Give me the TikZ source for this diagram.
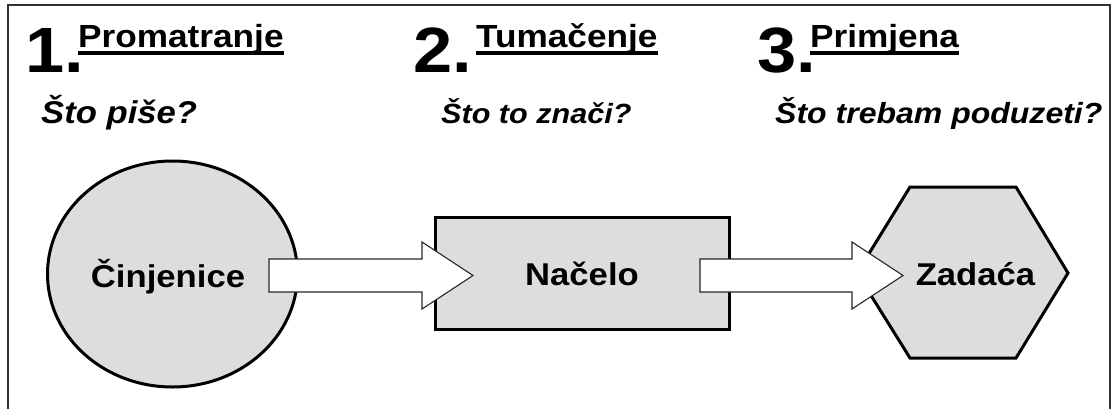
\documentclass[tikz,border=0pt]{standalone}
\usepackage{fontspec}
\setmainfont{Liberation Sans}[FakeStretch=1.1]
\usetikzlibrary{calc,shapes.geometric}
\definecolor{shapefill}{RGB}{221,221,221}
\definecolor{framecol}{RGB}{50,50,50}
\newcommand\blockarr[2]{%
  \draw[blockarrow] ($(#1)+(0,-16.5)$) -- ($(#2)+(-51,-16.5)$) -- ($(#2)+(-51,-33.5)$)
    -- (#2) -- ($(#2)+(-51,33.5)$) -- ($(#2)+(-51,16.5)$) -- ($(#1)+(0,16.5)$) -- cycle;}
\begin{document}
\begin{tikzpicture}[x=1pt,y=-1pt,
  shapebox/.style={draw=black, line width=3pt, fill=shapefill, inner sep=0pt},
  blockarrow/.style={draw=black!85, line width=1.1pt, fill=white, line join=miter},
  numtxt/.style={font=\bfseries\fontsize{64}{64}\selectfont, inner sep=0pt, anchor=base west},
  headtxt/.style={font=\bfseries\fontsize{32}{32}\selectfont, inner sep=0pt, anchor=base west},
  subtxt/.style={font=\bfseries\itshape, inner sep=0pt, anchor=base west},
  shapetxt/.style={font=\bfseries\fontsize{31.5}{31.5}\selectfont, inner sep=0pt, anchor=base},
  uline/.style={line width=3.5pt},
  frameline/.style={draw=framecol, line width=1.6pt}
]
\useasboundingbox (0,0) rectangle (1114,408);
% frame
\draw[frameline] (8,420) -- (8,5) -- (1110,5) -- (1110,420);

% column headings
\node[numtxt] (n1) at (25,72) {1.};
\node[headtxt] (h1) at (78,47) {Promatranje};
\draw[uline] ($(h1.base west)+(0,6)$) -- ($(h1.base east)+(0,6)$);
\node[numtxt] (n2) at (413,72) {2.};
\node[headtxt] (h2) at (476,47) {Tumačenje};
\draw[uline] ($(h2.base west)+(0,6)$) -- ($(h2.base east)+(0,6)$);
\node[numtxt] (n3) at (757,72) {3.};
\node[headtxt] (h3) at (810,47) {Primjena};
\draw[uline] ($(h3.base west)+(0,6)$) -- ($(h3.base east)+(0,6)$);

% questions
\node[subtxt, font=\bfseries\itshape\fontsize{31.5}{31.5}\selectfont] (q1) at (41,123) {Što piše?};
\node[subtxt, font=\bfseries\itshape\fontsize{27.8}{27.8}\selectfont] (q2) at (441,123) {Što to znači?};
\node[subtxt, font=\bfseries\itshape\fontsize{29.1}{29.1}\selectfont] (q3) at (775,123) {Što trebam poduzeti?};

% shapes
\node[shapebox, ellipse, minimum width=250pt, minimum height=226pt] (cin) at (172.5,274) {};
\node[shapebox, rectangle, minimum width=294pt, minimum height=112pt] (nac) at (582,273) {};
\draw[shapebox] (910,187) -- (1016,187) -- (1068,273) -- (1016,358) -- (910,358) -- (857,273) -- cycle;
\coordinate (zad) at (962.5,273);

% arrows
\coordinate (a1s) at (269,275.5);
\coordinate (a1t) at (473,275.5);
\coordinate (a2s) at (700,275.5);
\coordinate (a2t) at (903,275.5);
\blockarr{a1s}{a1t}
\blockarr{a2s}{a2t}

% shape texts
\node[shapetxt] (tcin) at (168,287) {Činjenice};
\node[shapetxt] (tnac) at (582,285) {Načelo};
\node[shapetxt] (tzad) at (975.5,285) {Zadaća};
\end{tikzpicture}
\end{document}
